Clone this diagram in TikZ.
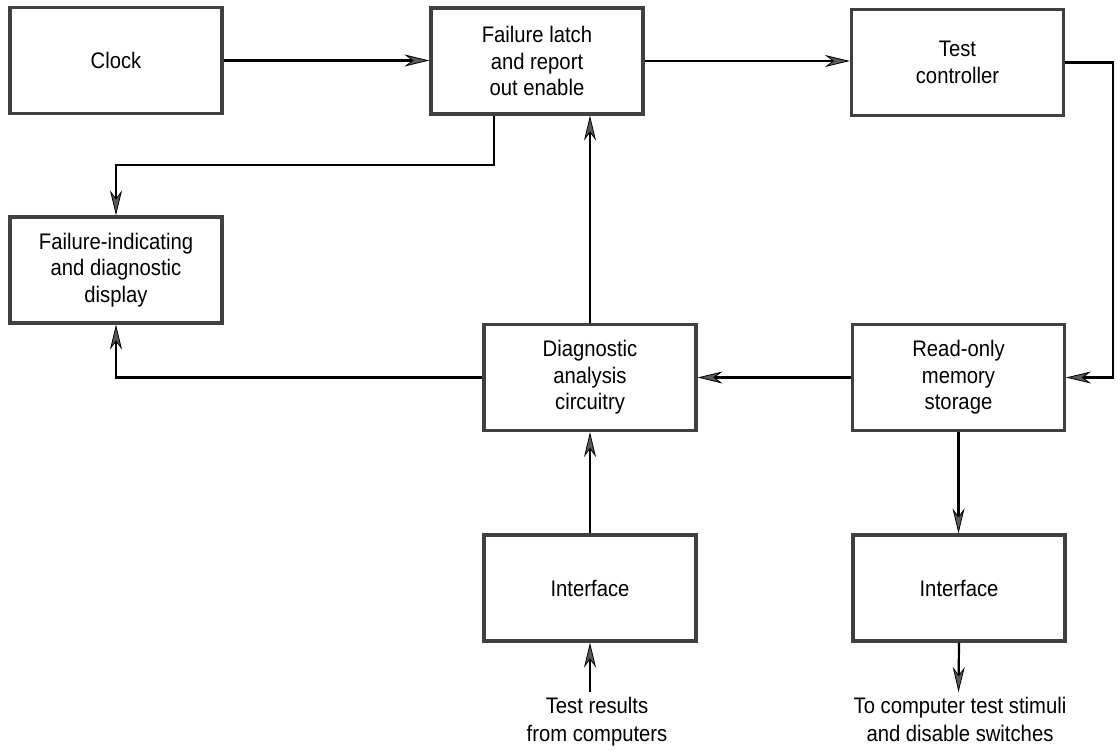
\documentclass[tikz,border=0pt]{standalone}
\usepackage{fontspec}
\setmainfont{Liberation Sans}[FakeStretch=0.9]
\usetikzlibrary{arrows.meta}
\begin{document}
\begin{tikzpicture}[x=1pt,y=-1pt,
  blk/.style={draw=black!75, line width=3.2pt, fill=white, minimum width=212pt,
    minimum height=106pt, align=center, inner sep=0pt,
    font=\fontsize{22.5}{26.5}\selectfont},
  lbl/.style={align=center, inner sep=0pt, font=\fontsize{22.5}{28}\selectfont},
  conn/.style={line width=2.2pt, black},
  arr/.style={conn, -{Stealth[length=25pt,width=12pt,inset=8pt,line width=0.8pt,fill=black!65]}}]
\useasboundingbox (0,0) rectangle (1118,751);

\node[blk] (clock) at (116,60.5) {Clock};
\node[blk] (latch) at (537,61) {Failure latch\\and report\\out enable};
\node[blk] (tc) at (957.5,62.5) {Test\\controller};
\node[blk] (fail) at (116,270) {Failure-indicating\\and diagnostic\\display};
\node[blk] (diag) at (590,377.5) {Diagnostic\\analysis\\circuitry};
\node[blk] (rom) at (958.5,377.5) {Read-only\\memory\\storage};
\node[blk] (ifl) at (590,588) {Interface};
\node[blk] (ifr) at (959,588) {Interface};

\node[lbl, anchor=north] (tl) at (597,697) {Test results\\from computers};
\node[lbl, anchor=north] (tr) at (960,697) {To computer test stimuli\\and disable switches};

\coordinate (l1) at (494,165);
\coordinate (r1) at (1113,62);
\coordinate (tin) at (590,692);
\coordinate (tout) at (958.5,692);

\draw[arr] (clock.east) -- (clock.east -| latch.west);
\draw[arr] (latch.east) -- (latch.east -| tc.west);
\draw[arr] (tc.east) -- (tc.east -| r1) |- (rom.east);
\draw[arr] (l1 |- latch.south) -- (l1) -| (fail.north);
\draw[arr] (diag.north) -- (diag.north |- latch.south);
\draw[arr] (diag.west) -| (fail.south);
\draw[arr] (rom.west) -- (rom.west -| diag.east);
\draw[arr] (rom.south) -- (rom.south |- ifr.north);
\draw[arr] (ifl.north) -- (ifl.north |- diag.south);
\draw[arr] (tin) -- (ifl.south);
\draw[arr] (ifr.south) -- (tout);
\end{tikzpicture}
\end{document}
